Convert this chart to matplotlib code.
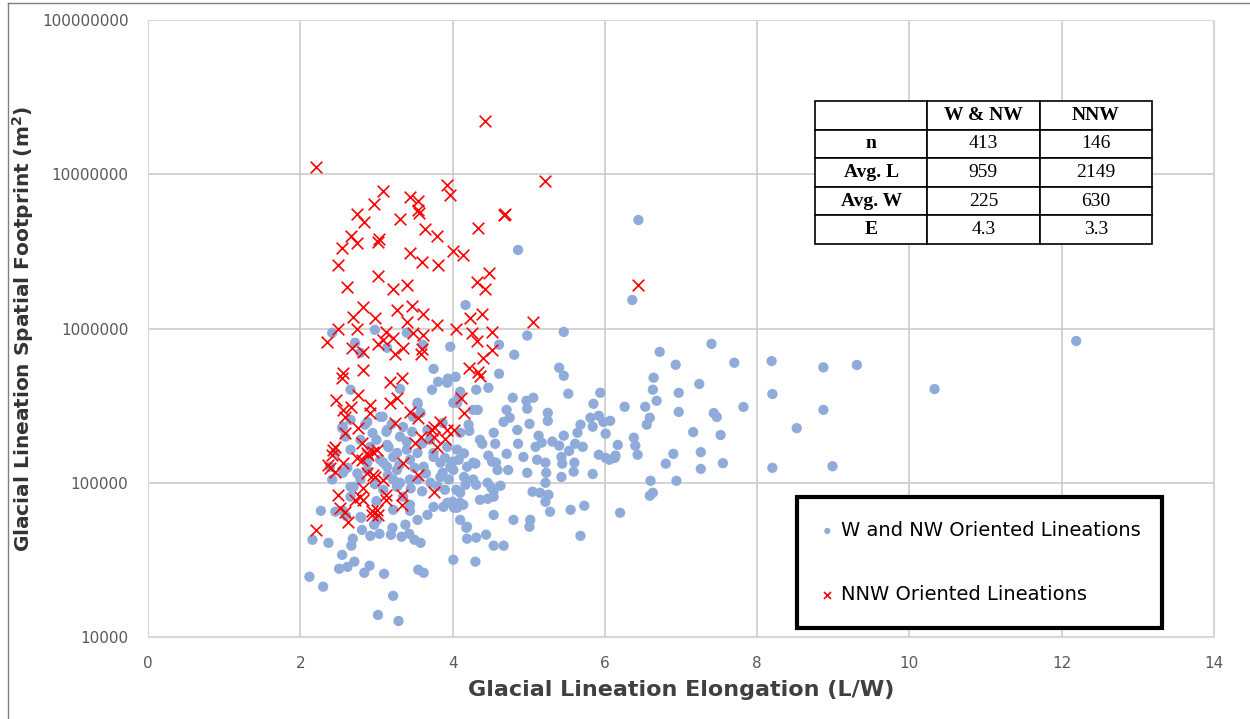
import matplotlib
matplotlib.use("Agg")
import matplotlib.pyplot as plt
from matplotlib.lines import Line2D

# W and NW oriented lineations (elongation, footprint m2)
wnw_x = [12.19, 10.33, 9.31, 8.87, 7.40, 7.70, 8.19, 7.24, 8.20, 7.82, 7.43, 7.47, 8.87, 7.16, 7.52, 8.52,
         7.26, 7.26, 7.55, 8.20, 8.99, 6.44, 6.36, 4.86, 4.17,
         4.98, 5.46, 4.61, 4.81, 6.72, 6.93, 5.40, 5.46, 4.61, 6.64, 4.47, 4.31, 6.63, 6.97, 4.79, 5.06,
         4.97, 5.52, 6.68, 5.94, 5.85, 6.26, 6.53, 6.97, 4.33, 4.71, 4.98, 5.25, 5.25, 4.75, 4.67, 5.01,
         5.81, 5.92, 6.07, 5.98, 6.59, 6.55, 5.68, 5.84, 6.01, 5.64, 4.85, 4.54, 6.38, 6.40, 6.43, 6.17,
         6.14, 6.90, 6.80, 5.13, 5.17, 5.09, 5.31, 5.46, 5.40, 5.61, 5.71, 5.53, 4.86, 4.56, 4.36, 4.39,
         4.22, 4.21, 4.71, 4.93, 5.11, 5.22, 5.43, 5.44, 5.60, 5.92, 6.01, 6.13, 4.47, 4.52, 4.27, 4.08,
         4.04, 4.10, 3.97,
         4.00, 4.30, 4.57, 4.73, 4.98, 5.23, 5.22, 5.43, 5.59, 5.84, 6.06, 6.60, 6.94, 6.63, 6.59, 6.20,
         5.73, 5.55, 5.28, 5.22, 5.26, 5.15, 5.05, 4.63, 4.51, 4.54, 4.46, 4.31, 4.17, 4.10, 4.14, 4.02,
         4.00, 4.15, 4.80, 5.02, 5.01, 4.18, 4.19, 4.31, 4.44, 4.54, 4.67, 5.68, 4.01, 4.30,
         2.27, 2.16, 2.37, 2.55, 2.67, 2.69, 2.51, 2.62, 2.71, 2.84, 2.91, 3.10, 2.12, 2.30, 3.22, 3.02,
         3.29, 3.55, 3.62, 2.42, 2.60, 2.81, 2.92, 3.04, 3.19, 3.33, 3.43, 3.58, 3.50, 3.54, 3.38, 3.21,
         2.97, 2.80, 2.66, 2.46, 3.22, 3.44, 3.75, 3.93, 4.06, 3.90, 3.71, 3.87, 4.01, 3.62, 3.44, 3.27,
         3.35, 2.79, 2.66, 2.56, 2.88, 3.14, 3.22,
         2.42, 2.72, 2.79, 3.14, 2.98, 3.40, 3.61, 3.75, 3.81, 3.94, 3.73, 3.31, 4.01, 4.08, 3.54, 3.58,
         3.08, 2.85, 3.13, 2.66, 2.55, 2.59, 2.79, 2.92, 2.66, 2.46, 3.14, 3.31, 3.47, 3.67, 3.87, 3.93,
         3.75, 3.54, 3.40, 3.22, 3.05, 3.84,
         4.27, 4.06, 3.93, 3.54, 3.48, 3.14, 3.05, 2.88, 2.56, 3.16, 3.27, 3.40, 3.44, 3.27, 3.09, 2.88,
         2.62, 2.39, 2.70, 3.09, 3.31, 3.54, 3.84, 3.97, 4.19, 4.27, 4.46, 4.54, 4.36, 4.10, 3.88, 3.67,
         3.44, 3.01, 2.79, 2.56, 4.10, 4.19, 4.54, 4.59, 4.06, 4.10, 3.75, 2.66,
         3.20, 3.35, 3.60, 3.70, 3.00, 2.95, 3.50, 3.65, 3.80, 3.95, 4.05, 3.60, 3.45, 3.15, 2.98, 2.75,
         3.30, 3.90, 4.15, 3.00]
wnw_y = [8.3e5, 4.05e5, 5.8e5, 5.6e5, 7.95e5, 6.0e5, 6.15e5, 4.37e5, 3.76e5, 3.1e5, 2.83e5, 2.67e5, 2.97e5, 2.13e5, 2.04e5, 2.26e5,
         1.58e5, 1.23e5, 1.34e5, 1.25e5, 1.28e5, 5.05e6, 1.53e6, 3.23e6, 1.42e6,
         9.0e5, 9.5e5, 7.85e5, 6.76e5, 7.06e5, 5.82e5, 5.57e5, 4.94e5, 5.09e5, 4.8e5, 4.13e5, 4.01e5, 4.01e5, 3.83e5, 3.56e5, 3.56e5,
         3.4e5, 3.78e5, 3.4e5, 3.83e5, 3.25e5, 3.11e5, 3.11e5, 2.88e5, 2.97e5, 2.97e5, 3.02e5, 2.84e5, 2.52e5, 2.64e5, 2.48e5, 2.41e5,
         2.64e5, 2.72e5, 2.52e5, 2.48e5, 2.64e5, 2.38e5, 2.38e5, 2.31e5, 2.08e5, 2.11e5, 2.2e5, 2.11e5, 1.96e5, 1.74e5, 1.52e5, 1.76e5,
         1.5e5, 1.54e5, 1.33e5, 2.02e5, 1.82e5, 1.71e5, 1.85e5, 2.02e5, 1.74e5, 1.79e5, 1.71e5, 1.61e5, 1.79e5, 1.79e5, 1.9e5, 1.79e5,
         2.17e5, 2.38e5, 1.54e5, 1.47e5, 1.41e5, 1.35e5, 1.47e5, 1.33e5, 1.35e5, 1.52e5, 1.45e5, 1.45e5, 1.5e5, 1.37e5, 1.35e5, 1.41e5,
         4.86e5, 3.89e5, 7.62e5,
         1.37e5, 1.33e5, 1.35e5, 1.21e5, 1.16e5, 1.16e5, 1.0e5, 1.09e5, 1.18e5, 1.14e5, 1.41e5, 1.03e5, 1.03e5, 8.61e4, 8.24e4, 6.39e4,
         7.1e4, 6.68e4, 6.49e4, 7.53e4, 8.36e4, 8.61e4, 8.75e4, 9.57e4, 9.29e4, 8.88e4, 7.87e4, 9.7e4, 9.7e4, 8.61e4, 7.2e4, 6.89e4,
         7.53e4, 1.09e5, 5.75e4, 5.75e4, 5.19e4, 5.11e4, 4.34e4, 4.41e4, 4.61e4, 3.91e4, 3.91e4, 4.53e4, 3.17e4, 3.08e4,
         6.58e4, 4.27e4, 4.08e4, 3.41e4, 3.91e4, 4.34e4, 2.77e4, 2.85e4, 3.08e4, 2.61e4, 2.9e4, 2.57e4, 2.46e4, 2.12e4, 1.85e4, 1.39e4,
         1.27e4, 2.73e4, 2.61e4, 1.05e5, 6.11e4, 4.95e4, 4.53e4, 4.67e4, 4.6e4, 4.47e4, 4.67e4, 4.08e4, 4.27e4, 5.75e4, 5.35e4, 5.11e4,
         5.35e4, 5.93e4, 8.12e4, 6.49e4, 6.68e4, 7.2e4, 6.98e4, 7.41e4, 6.89e4, 9.01e4, 1.0e5, 1.16e5, 1.21e5, 1.27e5, 1.05e5, 9.42e4,
         8.12e4, 1.05e5, 9.42e4, 1.16e5, 1.35e5, 1.27e5, 1.05e5,
         9.38e5, 8.09e5, 6.97e5, 7.5e5, 9.8e5, 9.38e5, 7.85e5, 5.48e5, 4.52e5, 4.73e5, 4.01e5, 4.06e5, 3.3e5, 3.56e5, 3.21e5, 2.84e5,
         2.68e5, 2.38e5, 2.14e5, 2.56e5, 2.27e5, 1.99e5, 1.9e5, 1.71e5, 1.64e5, 1.56e5, 1.76e5, 1.99e5, 2.14e5, 2.2e5, 2.44e5, 1.71e5,
         1.56e5, 1.56e5, 1.64e5, 1.47e5, 1.41e5, 1.35e5,
         2.97e5, 3.3e5, 4.45e5, 3.3e5, 2.68e5, 2.2e5, 2.68e5, 2.48e5, 2.31e5, 1.7e5, 1.56e5, 1.85e5, 1.41e5, 1.21e5, 1.35e5, 1.21e5,
         1.25e5, 1.27e5, 9.42e4, 9.01e4, 1.0e5, 1.05e5, 1.09e5, 1.27e5, 1.27e5, 1.05e5, 1.0e5, 8.12e4, 7.76e4, 7.41e4, 6.98e4, 6.19e4,
         6.58e4, 5.75e4, 6.0e4, 6.58e4, 5.75e4, 5.19e4, 6.19e4, 1.21e5, 1.64e5, 2.11e5, 1.47e5, 4.01e5,
         2.4e5, 2.3e5, 1.8e5, 1.9e5, 1.9e5, 2.1e5, 1.25e5, 1.15e5, 9.5e4, 1.05e5, 9.0e4, 8.8e4, 9.2e4, 1.12e5, 9.8e4, 1.15e5,
         1.3e5, 1.45e5, 1.55e5, 7.6e4]

# NNW oriented lineations
nnw_x = [4.43, 2.21, 5.22, 3.09, 3.44, 3.54, 3.93, 3.97, 2.97, 2.75, 2.84, 3.31, 3.54, 3.56, 4.67, 4.69,
         4.34, 3.64, 3.79, 2.67, 2.55, 2.75, 3.04, 3.02, 3.44, 3.60, 3.81, 4.01, 4.14, 2.50, 3.02, 2.62,
         3.22, 3.40, 4.32, 4.48, 4.43, 6.44, 5.06, 2.83, 3.27, 3.47, 3.61, 2.69, 2.98, 3.40, 3.80, 4.04,
         2.50, 2.35, 2.75, 3.12, 3.09, 3.22, 3.48, 3.61, 2.68, 2.83, 3.02, 3.25, 3.35, 3.60, 3.58, 2.56,
         2.55, 2.83, 3.18, 3.34, 2.47, 2.76, 2.66, 2.92, 3.18, 3.27, 2.59, 2.92, 3.25, 3.44, 3.54, 2.76,
         2.59, 3.75, 3.84, 3.93, 3.58, 3.75, 3.51, 2.81, 2.43, 2.42, 2.96, 2.88, 2.37, 2.56, 3.35, 2.39,
         2.46, 2.81, 3.54, 2.87, 2.96, 3.08, 3.75, 2.50, 2.83, 2.72, 2.83, 3.13, 3.12, 3.34, 3.34, 2.52,
         2.59, 2.63, 2.94, 3.01, 2.21, 4.23, 4.38, 4.25, 4.32, 4.52, 4.52, 4.40, 4.22, 4.34, 4.36, 4.11,
         4.15, 4.02, 2.56, 3.73, 3.90, 3.80, 2.46, 2.75, 2.89, 3.01, 2.98, 2.79, 2.94, 3.02]
nnw_y = [2.21e7, 1.11e7, 9.04e6, 7.78e6, 7.11e6, 6.7e6, 8.51e6, 7.34e6, 6.41e6, 5.52e6, 4.9e6, 5.13e6, 5.86e6, 5.6e6, 5.44e6, 5.5e6,
         4.48e6, 4.42e6, 3.98e6, 3.98e6, 3.33e6, 3.59e6, 3.81e6, 3.64e6, 3.09e6, 2.7e6, 2.58e6, 3.18e6, 3.0e6, 2.58e6, 2.19e6, 1.86e6,
         1.81e6, 1.92e6, 2.0e6, 2.3e6, 1.81e6, 1.92e6, 1.11e6, 1.38e6, 1.32e6, 1.4e6, 1.25e6, 1.19e6, 1.17e6, 1.11e6, 1.06e6, 1.0e6,
         1.0e6, 8.2e5, 1.0e6, 9.5e5, 8.45e5, 8.7e5, 9.38e5, 9.1e5, 7.45e5, 7.02e5, 7.9e5, 6.8e5, 7.45e5, 7.33e5, 6.8e5, 5.16e5,
         4.79e5, 5.4e5, 4.52e5, 4.8e5, 3.45e5, 3.72e5, 3.11e5, 3.21e5, 3.3e5, 3.56e5, 2.68e5, 2.84e5, 2.45e5, 2.88e5, 2.64e5, 2.27e5,
         2.11e5, 2.31e5, 2.48e5, 2.2e5, 1.99e5, 1.99e5, 1.82e5, 1.82e5, 1.64e5, 1.52e5, 1.59e5, 1.56e5, 1.31e5, 1.35e5, 1.35e5, 1.25e5,
         1.18e5, 1.41e5, 1.13e5, 1.16e5, 1.13e5, 1.05e5, 8.75e4, 8.36e4, 9.29e4, 7.76e4, 7.76e4, 8.36e4, 7.76e4, 8.36e4, 7.2e4, 6.89e4,
         6.49e4, 5.58e4, 6.19e4, 6.68e4, 4.95e4, 1.17e6, 1.24e6, 9.38e5, 8.3e5, 9.5e5, 7.23e5, 6.41e5, 5.52e5, 5.2e5, 4.9e5, 3.56e5,
         2.84e5, 2.2e5, 2.97e5, 2.2e5, 1.93e5, 1.71e5, 1.71e5, 1.45e5, 1.52e5, 1.64e5, 1.09e5, 8.12e4, 6.58e4, 6.19e4]

# summary table
col_labels = ["", "W & NW", "NNW"]
row_labels = ["n", "Avg. L", "Avg. W", "E"]
wnw_stats = ["413", "959", "225", "4.3"]
nnw_stats = ["146", "2149", "630", "3.3"]

fig = plt.figure(figsize=(12.5, 7.19), dpi=100)
ax = fig.add_axes([0.1184, 0.114, 0.8528, 0.8582])

ax.scatter(wnw_x, wnw_y, s=55, color="#8FABDA", edgecolors="none", label="W and NW Oriented Lineations", zorder=3)
ax.scatter(nnw_x, nnw_y, s=70, marker="x", color="#FF0000", linewidths=1.2, label="NNW Oriented Lineations", zorder=4)

ax.set_yscale("log")
ax.set_xlim(0, 14)
ax.set_ylim(1e4, 1e8)
ax.set_xticks(range(0, 15, 2))
ax.set_yticks([1e4, 1e5, 1e6, 1e7, 1e8])
ax.set_yticklabels(["10000", "100000", "1000000", "10000000", "100000000"])
ax.minorticks_off()
ax.tick_params(length=0, labelsize=11, labelcolor="#595959", pad=14)
ax.grid(True, color="#C8C8C8", linewidth=1.1, zorder=0)
ax.set_axisbelow(True)
for sp in ax.spines.values():
    sp.set_color("#D9D9D9")

ax.set_xlabel("Glacial Lineation Elongation (L/W)", fontsize=16, fontweight="bold", color="#404040", labelpad=6)
ax.set_ylabel("Glacial Lineation Spatial Footprint (m$^\\mathregular{2}$)", fontsize=14.5, fontweight="bold",
              color="#333333", labelpad=4)

# table
cells = [col_labels] + [[r, a, b] for r, a, b in zip(row_labels, wnw_stats, nnw_stats)]
tab = ax.table(cellText=cells, cellLoc="center", bbox=[0.6257, 0.637, 0.316, 0.2318], zorder=5)
tab.auto_set_font_size(False)
for (r, c), cell in tab.get_celld().items():
    cell.set_edgecolor("black")
    cell.set_linewidth(1.2)
    cell.set_facecolor("white")
    txt = cell.get_text()
    txt.set_fontfamily("Liberation Serif")
    txt.set_fontsize(14)
    if r == 0 or c == 0:
        txt.set_fontweight("bold")

leg = ax.legend(loc="lower left", bbox_to_anchor=(0.609, 0.0146, 0.342, 0.212), mode="expand",
                fontsize=14, frameon=True, fancybox=False, framealpha=1, labelspacing=2.3, borderpad=1.25,
                handlelength=0.6, handletextpad=0.4, borderaxespad=0, markerscale=0.6, scatterpoints=1)
leg.get_frame().set_edgecolor("black")
leg.get_frame().set_linewidth(3)
leg.set_zorder(6)

# outer border of the chart area
fig.add_artist(Line2D([0.006, 0.006], [0, 0.996], transform=fig.transFigure, color="#7F7F7F", linewidth=1))
fig.add_artist(Line2D([0.006, 1], [0.996, 0.996], transform=fig.transFigure, color="#7F7F7F", linewidth=1))

fig.savefig("out.png", dpi=100)
